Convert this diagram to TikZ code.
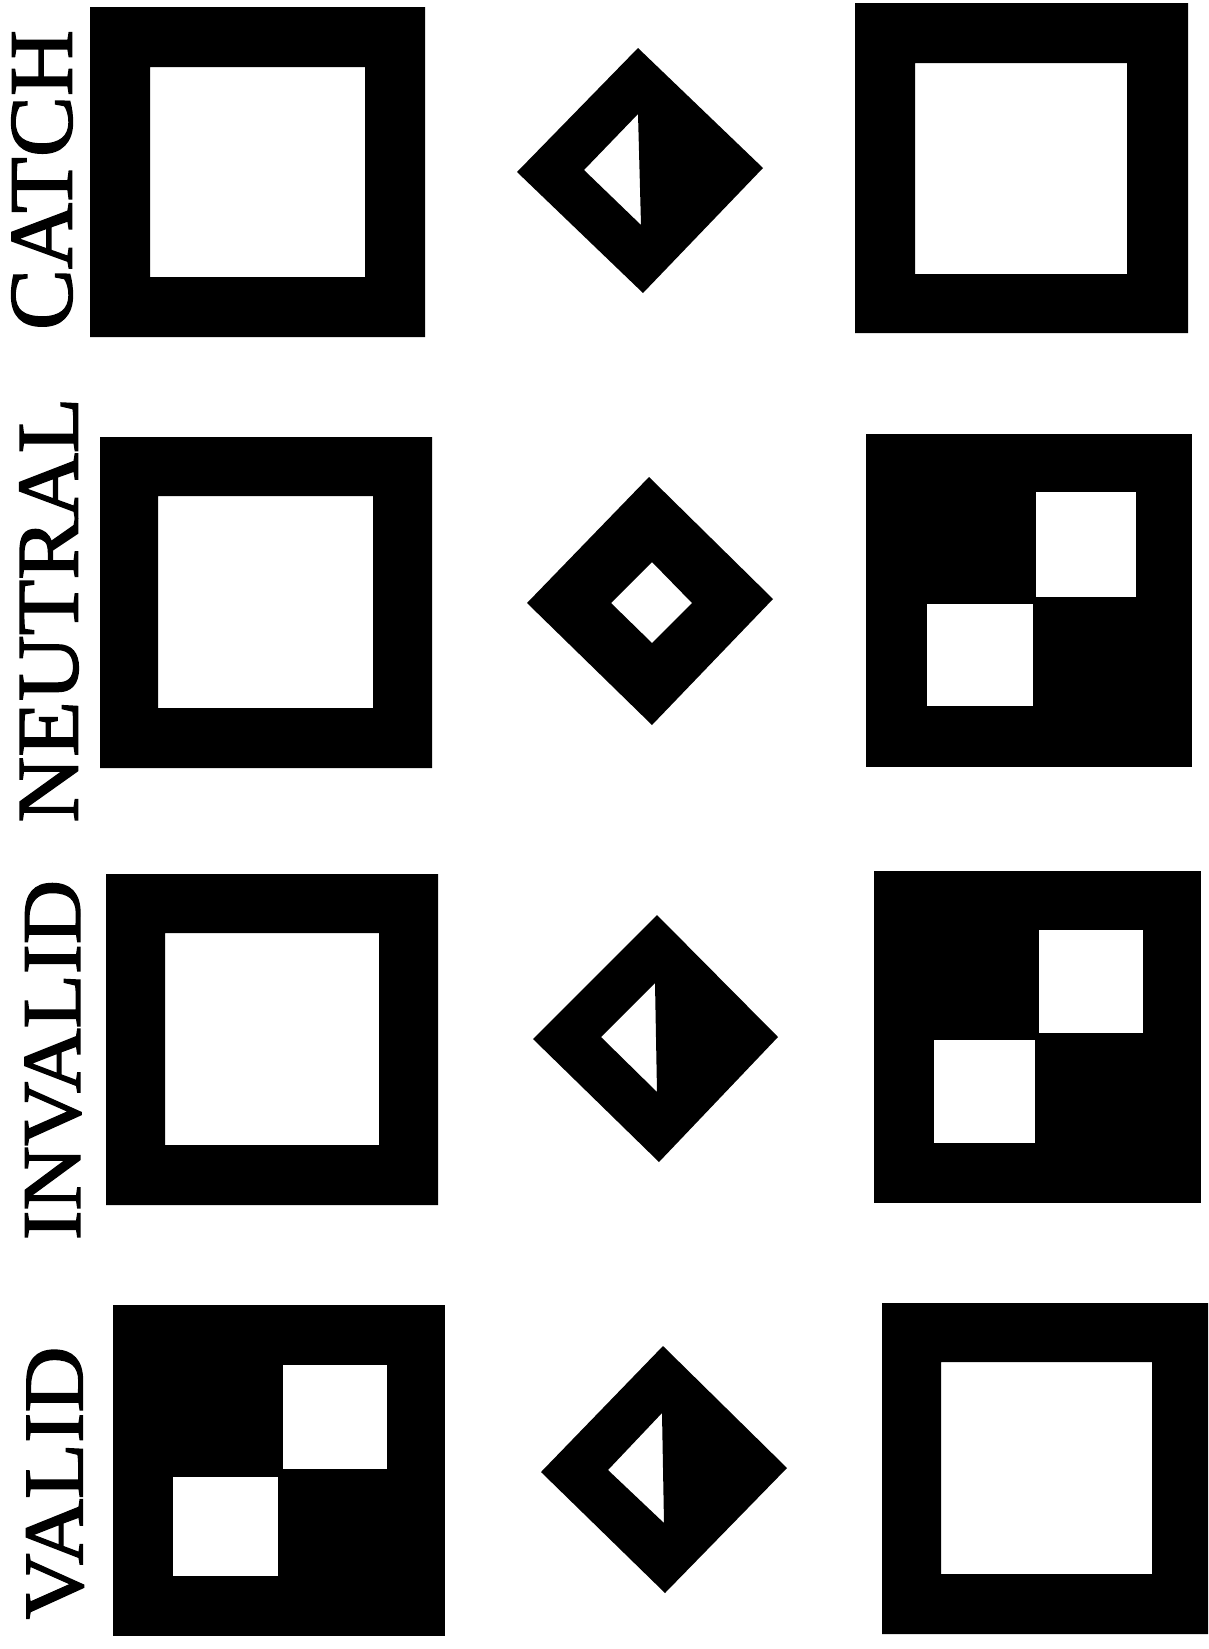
\documentclass[tikz,border=0pt]{standalone}
\usepackage{fontspec}
\setmainfont{Liberation Serif}
\newfontfamily\tagfont{Liberation Serif}[FakeBold=1.6]
\usepackage{graphicx}

\tikzset{
    tag/.style={rotate=90, inner sep=0pt, outer sep=0pt, font=\tagfont},
    ink/.style={fill=black},
    frame/.style={fill=black, even odd rule},
}
\newcommand{\tagtext}[3]{\resizebox{#1pt}{#2pt}{#3}}

\begin{document}
\begin{tikzpicture}[x=1pt, y=-1pt]
    \useasboundingbox (0,0) rectangle (1209,1649);
    % Row labels
    \node[tag] (catch)   at (42,180)   {\tagtext{300}{60}{CATCH}};
    \node[tag] (neutral) at (49,610)   {\tagtext{425}{58}{NEUTRAL}};
    \node[tag] (invalid) at (53,1060)  {\tagtext{360}{55}{INVALID}};
    \node[tag] (valid)   at (55,1483)  {\tagtext{273}{56}{VALID}};
    % CATCH row
    \fill[frame] (90,7) rectangle (425,337) (150,67) rectangle (365,277);
    \fill[ink, even odd rule] (638,48) -- (763,168) -- (643,293) -- (517,172) -- cycle
        (638,114) -- (641,225) -- (584,170) -- cycle;
    \fill[frame] (855,3) rectangle (1188,333) (915,63) rectangle (1127,274);
    % NEUTRAL row
    \fill[frame] (100,437) rectangle (432,768) (158,496) rectangle (373,708);
    \fill[ink, even odd rule] (649,477) -- (773,599) -- (652,725) -- (527,603) -- cycle
        (652,562) -- (692,603) -- (652,643) -- (611,603) -- cycle;
    \fill[ink] (866,434) rectangle (1192,767);
    \fill[white] (1036,492) rectangle (1136,597);
    \fill[white] (927,604) rectangle (1033,706);
    % INVALID row
    \fill[frame] (106,874) rectangle (438,1205) (165,933) rectangle (379,1145);
    \fill[ink, even odd rule] (657,915) -- (778,1037) -- (659,1162) -- (533,1039) -- cycle
        (655,983) -- (657,1092) -- (601,1037) -- cycle;
    \fill[ink] (874,871) rectangle (1201,1203);
    \fill[white] (1039,930) rectangle (1143,1033);
    \fill[white] (934,1040) rectangle (1035,1143);
    % VALID row
    \fill[ink] (113,1305) rectangle (445,1636);
    \fill[white] (283,1365) rectangle (387,1469);
    \fill[white] (173,1477) rectangle (278,1576);
    \fill[ink, even odd rule] (663,1346) -- (787,1468) -- (665,1593) -- (541,1472) -- cycle
        (662,1413) -- (664,1523) -- (608,1470) -- cycle;
    \fill[frame] (882,1303) rectangle (1208,1634) (941,1362) rectangle (1152,1574);
\end{tikzpicture}
\end{document}
